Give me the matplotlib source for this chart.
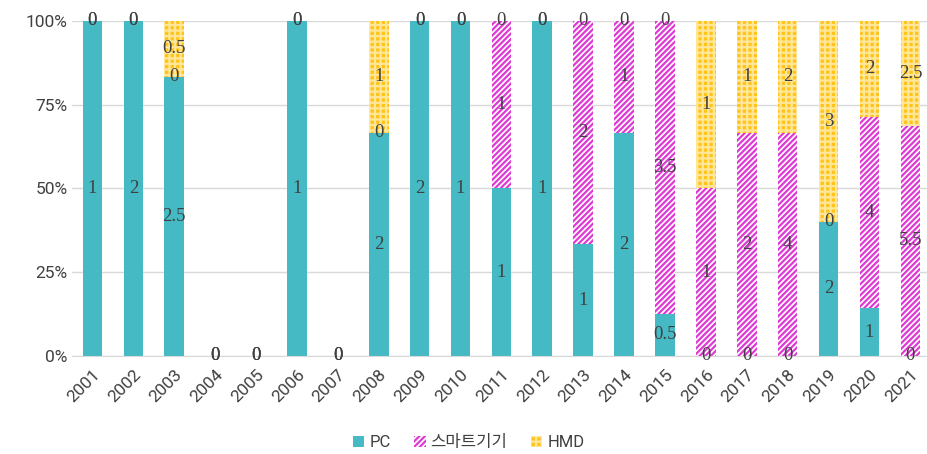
import matplotlib.pyplot as plt
import numpy as np

years = [str(y) for y in range(2001, 2022)]
pc = [1, 2, 2.5, 0, 0, 1, 0, 2, 2, 1, 1, 1, 1, 2, 0.5, 0, 0, 0, 2, 1, 0]
smart = [0, 0, 0, 0, 0, 0, 0, 0, 0, 0, 1, 0, 2, 1, 3.5, 1, 2, 4, 0, 4, 5.5]
hmd = [0, 0, 0.5, 0, 0, 0, 0, 1, 0, 0, 0, 0, 0, 0, 0, 1, 1, 2, 3, 2, 2.5]
series_names = ['PC', '스마트기기', 'HMD']

plt.rcParams['font.family'] = ['Roboto', 'Noto Sans CJK KR', 'DejaVu Sans']
plt.rcParams['hatch.linewidth'] = 1.6

fig = plt.figure(figsize=(9.28, 4.54), dpi=100)
ax = fig.add_axes([0.078, 0.216, 0.9224, 0.738])

data = np.array([pc, smart, hmd], dtype=float)
totals = data.sum(axis=0)
safe = np.where(totals == 0, 1, totals)
shares = data / safe * 100

x = np.arange(len(years))
styles = [
    dict(color='#45BAC4', linewidth=0),
    dict(facecolor='white', edgecolor='#DE3AD3', hatch='//////', linewidth=0),
    dict(facecolor='#FFC31A', edgecolor='#FFE79A', hatch='+++', linewidth=0),
]

bottom = np.zeros(len(years))
for i, name in enumerate(series_names):
    ax.bar(x, shares[i], width=0.48, bottom=bottom, label=name, zorder=2, **styles[i])
    # value labels sit in the middle of each segment
    for j in range(len(years)):
        ypos = bottom[j] + shares[i, j] / 2
        ax.text(x[j], ypos, '%g' % data[i, j], ha='center', va='center', fontsize=13.5,
                family='Liberation Serif', color='#404040', zorder=3)
    bottom += shares[i]

ax.set_xlim(-0.49, len(years) - 0.56)
ax.set_ylim(0, 100)
ax.set_yticks([0, 25, 50, 75, 100])
ax.set_yticklabels(['0%', '25%', '50%', '75%', '100%'])
ax.yaxis.grid(True, color='#D9D9D9', linewidth=1, zorder=0)
ax.set_axisbelow(True)
ax.set_xticks(x)
ax.set_xticklabels(years, rotation=45, ha='right', rotation_mode='anchor')
ax.tick_params(axis='both', length=0, labelsize=12.5, colors='#404040')
ax.tick_params(axis='x', pad=8)
for side in ['top', 'right', 'left']:
    ax.spines[side].set_visible(False)
ax.spines['bottom'].set_color('#D9D9D9')

fig.legend(loc='lower center', bbox_to_anchor=(0.505, -0.025), ncol=3, frameon=False,
           fontsize=12, handlelength=0.7, handleheight=0.7, handletextpad=0.3,
           columnspacing=1.4, labelcolor='#404040')

fig.savefig('out.png', dpi=100)
